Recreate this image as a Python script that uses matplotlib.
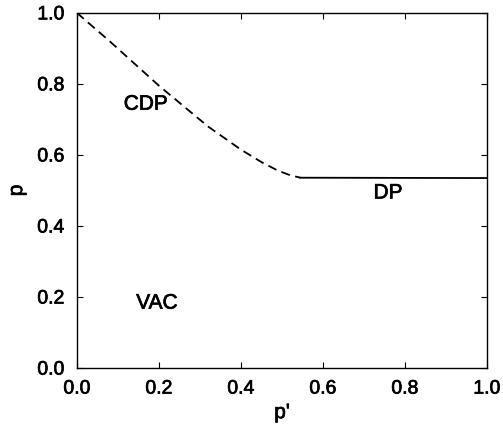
import matplotlib
matplotlib.use("Agg")
import matplotlib.pyplot as plt
import matplotlib.patheffects as pe

# CDP boundary (dashed)
cdp_x = [0.0, 0.08, 0.2, 0.32, 0.4, 0.45, 0.49, 0.52, 0.545]
cdp_y = [1.0, 0.92, 0.795, 0.68, 0.615, 0.58, 0.556, 0.543, 0.536]
# DP boundary (solid)
dp_x = [0.545, 1.0]
dp_y = [0.536, 0.535]

ticks = [0.0, 0.2, 0.4, 0.6, 0.8, 1.0]
tick_labels = ["0.0", "0.2", "0.4", "0.6", "0.8", "1.0"]

plt.rcParams['font.family'] = ['Liberation Sans', 'DejaVu Sans']

fig = plt.figure(figsize=(5.03, 4.30), dpi=100)
ax = fig.add_axes([0.153, 0.144, 0.815, 0.826])

ax.plot(cdp_x, cdp_y, color='black', lw=1.3, dashes=(5, 3))
ax.plot(dp_x, dp_y, color='black', lw=1.3)

heavy = [pe.withStroke(linewidth=0.5, foreground='black')]

for t, x, y in [("CDP", 0.168, 0.743), ("DP", 0.759, 0.493), ("VAC", 0.195, 0.183)]:
    ax.text(x, y, t, fontsize=15, ha='center', va='center', path_effects=heavy)

ax.set_xlim(0, 1)
ax.set_ylim(0, 1)
ax.set_xticks(ticks)
ax.set_xticklabels(tick_labels)
ax.set_yticks(ticks)
ax.set_yticklabels(tick_labels)
ax.tick_params(direction='in', length=4, width=0.8, labelsize=14,
               top=True, right=True, pad=9)
for lab in ax.get_xticklabels() + ax.get_yticklabels():
    lab.set_path_effects(heavy)
for s in ax.spines.values():
    s.set_linewidth(1.0)

ax.set_xlabel("p'", fontsize=15, labelpad=4, path_effects=heavy)
ax.set_ylabel("p", fontsize=15, labelpad=8, path_effects=heavy)

fig.savefig("out.png", dpi=100)
